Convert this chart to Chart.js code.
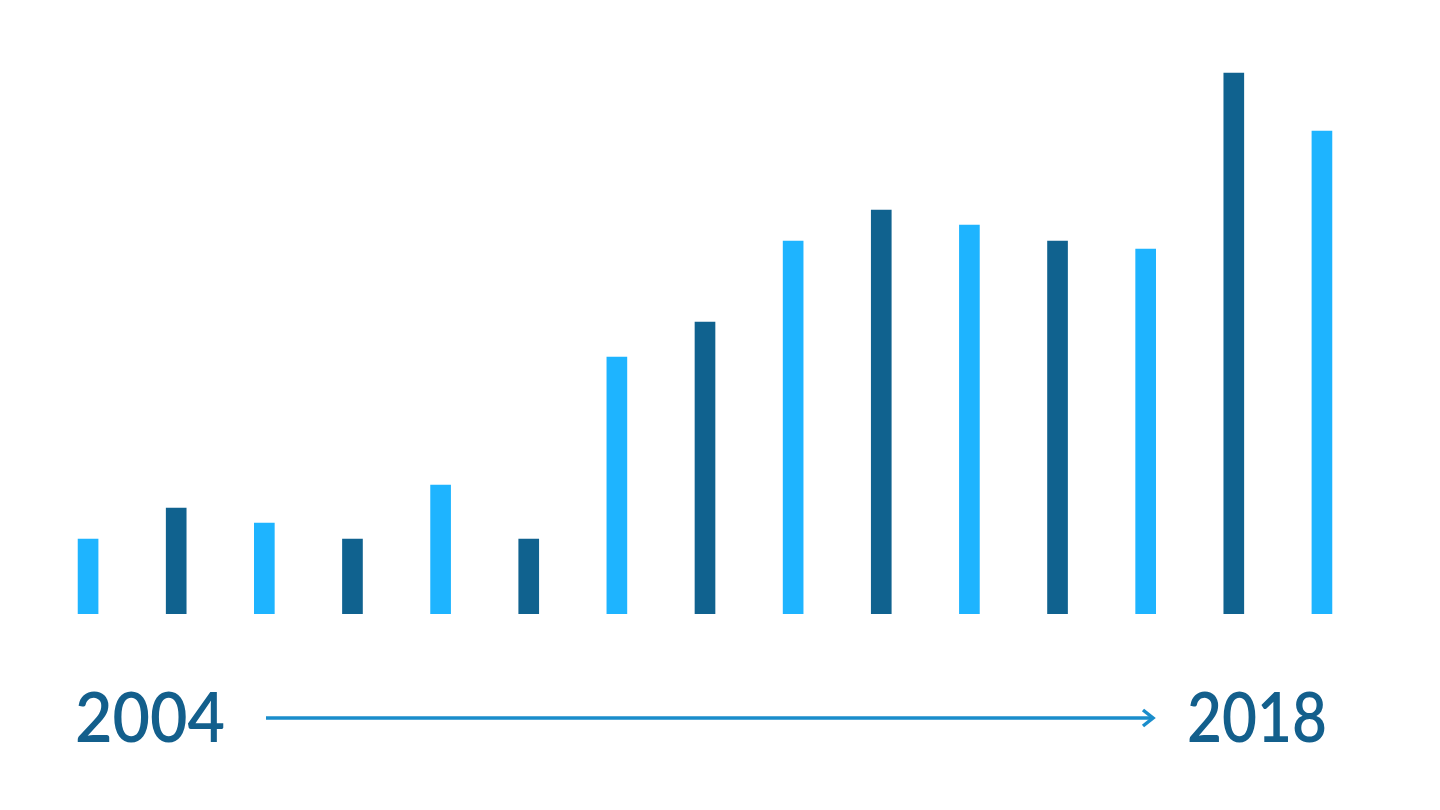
<!DOCTYPE html>
<html>
<head>
<meta charset="utf-8">
<script src="https://cdn.jsdelivr.net/npm/chart.js@4.4.1/dist/chart.umd.min.js"></script>
<style>
  html, body { margin: 0; padding: 0; background: #ffffff; }
  #wrap { position: relative; width: 1440px; height: 810px; }
  #bars { position: absolute; left: 0; top: 0; }
  #overlay { position: absolute; left: 0; top: 0; }
  #overlay text { font-family: Lato, "Noto Sans", sans-serif; font-size: 69px; font-weight: 600; fill: #135f8c; }
</style>
</head>
<body>
<div id="wrap">
  <canvas id="bars" width="1440" height="810"></canvas>
  <svg id="overlay" width="1440" height="810">
    <text id="startLabel" x="75" y="742" textLength="150" lengthAdjust="spacingAndGlyphs"></text>
    <line x1="266" y1="718" x2="1152" y2="718" stroke="#1a8dcb" stroke-width="3.5"/>
    <polyline points="1143,710 1153,718 1143,726" fill="none" stroke="#1a8dcb" stroke-width="3.5"/>
    <text id="endLabel" x="1187" y="742" textLength="140" lengthAdjust="spacingAndGlyphs"></text>
  </svg>
</div>
<script>
var years = ["2004", "2005", "2006", "2007", "2008", "2009", "2010", "2011",
             "2012", "2013", "2014", "2015", "2016", "2017", "2018"];
var values = [75, 106, 91, 75, 129, 75, 257, 292, 373, 404, 389, 373, 365, 541, 483];
var lightBlue = "#1eb4ff";
var darkBlue = "#10628f";

document.getElementById("startLabel").textContent = years[0];
document.getElementById("endLabel").textContent = years[years.length - 1];

var ctx = document.getElementById("bars").getContext("2d");
var myChart = new Chart(ctx, {
  type: "bar",
  data: {
    labels: years,
    datasets: [
      {
        label: "Value",
        data: values,
        backgroundColor: values.map(function (v, i) {
          return i % 2 === 0 ? lightBlue : darkBlue;
        }),
        borderWidth: 0,
        barThickness: 20,
      },
    ],
  },
  options: {
    responsive: false,
    animation: false,
    layout: {
      padding: { left: 44, right: 74, top: 14, bottom: 196 },
    },
    plugins: {
      legend: { display: false },
      tooltip: { enabled: false },
    },
    scales: {
      x: { display: false },
      y: { display: false, min: 0, max: 600 },
    },
  },
});
</script>
</body>
</html>
